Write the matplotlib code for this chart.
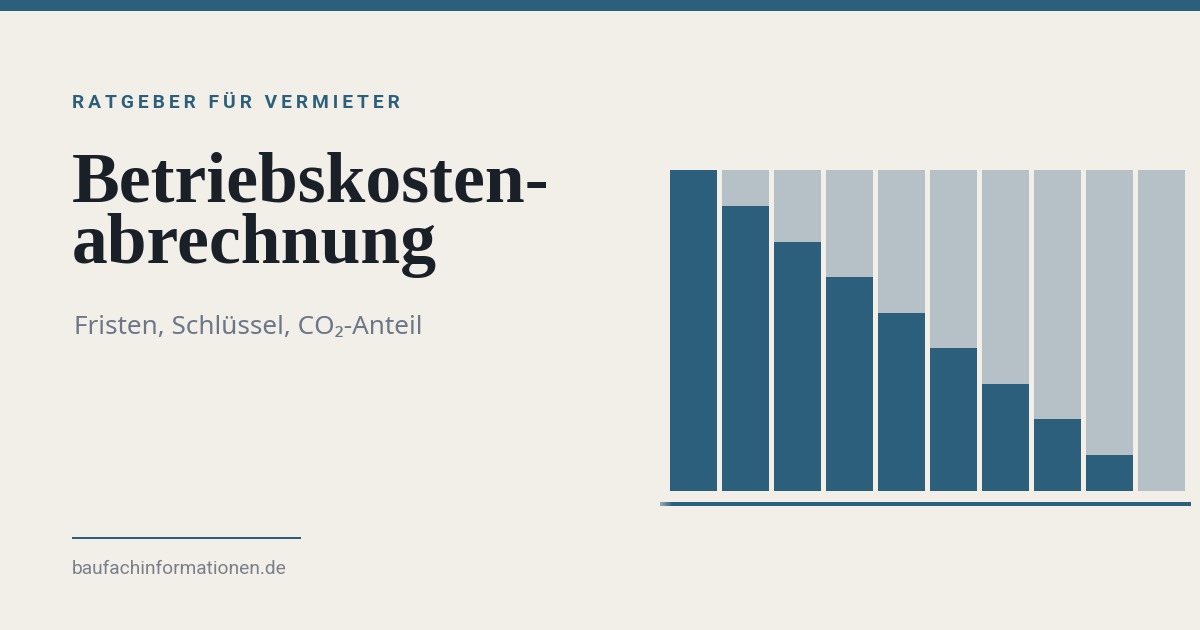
import numpy as np
import matplotlib
matplotlib.use("Agg")
import matplotlib.pyplot as plt
from matplotlib.colors import LinearSegmentedColormap

# Data
categories = list(range(1, 11))
dark_values = [100, 88.9, 77.6, 66.7, 55.5, 44.5, 33.3, 22.4, 11.2, 0]
total_values = [100] * 10
eyebrow = "RATGEBER FÜR VERMIETER"
title_lines = ["Betriebskosten-", "abrechnung"]
subtitle = "Fristen, Schlüssel, CO₂-Anteil"
footer = "baufachinformationen.de"

BG = "#f2efe8"; BLUE = "#2c5f7c"; LIGHT = "#b5c1c6"; INK = "#1a2028"; GREY = "#6b7688"; FOOT = "#7b7f8b"
W, H = 1200, 630
HS = "\u200a"

fig = plt.figure(figsize=(12, 6.3), dpi=100, facecolor=BG)

def px_axes(x0, y0, x1, y1):
    return fig.add_axes([x0 / W, 1 - y1 / H, (x1 - x0) / W, (y1 - y0) / H])

# Chart
ax = px_axes(660, 170, 1191, 491)
x = np.arange(len(categories))
ax.bar(x, total_values, width=47 / 52, color=LIGHT, linewidth=0)
ax.bar(x, dark_values, width=47 / 52, color=BLUE, linewidth=0)
ax.set_xlim((660 - 693.5) / 52, (1191 - 693.5) / 52)
ax.set_ylim(0, 100)
ax.axis("off")

# Baseline with fade at the left
base = px_axes(660, 502, 1191, 506)
cmap = LinearSegmentedColormap.from_list("fade", ["#93a9b7", BLUE])
base.imshow(np.clip(np.linspace(0, 531 / 12, 531), 0, 1)[None, :], cmap=cmap, aspect="auto")
base.axis("off")

# Decoration
top = px_axes(0, 0, 1200, 11)
top.set_facecolor(BLUE); top.set_xticks([]); top.set_yticks([])
for s in top.spines.values():
    s.set_visible(False)
rule = px_axes(72, 537, 301, 539)
rule.set_facecolor(BLUE); rule.set_xticks([]); rule.set_yticks([])
for s in rule.spines.values():
    s.set_visible(False)

# Text
def t(px, py, s, **kw):
    fig.text(px / W, 1 - py / H, s, va="baseline", ha="left", **kw)

t(72, 108, (HS * 2).join(eyebrow), family="Roboto", fontsize=13.8, fontweight="bold", color=BLUE)
t(72, 201, title_lines[0], family="Liberation Serif", fontsize=51.6, fontweight="bold", color=INK)
t(72, 263, title_lines[1], family="Liberation Serif", fontsize=51.6, fontweight="bold", color=INK)
t(74, 334, subtitle, family=["Noto Sans", "DejaVu Sans"], fontsize=18.8, color=GREY)
t(72, 574, footer, family="Roboto", fontsize=13.8, color=FOOT)

fig.savefig("out.png", dpi=100, facecolor=BG)
